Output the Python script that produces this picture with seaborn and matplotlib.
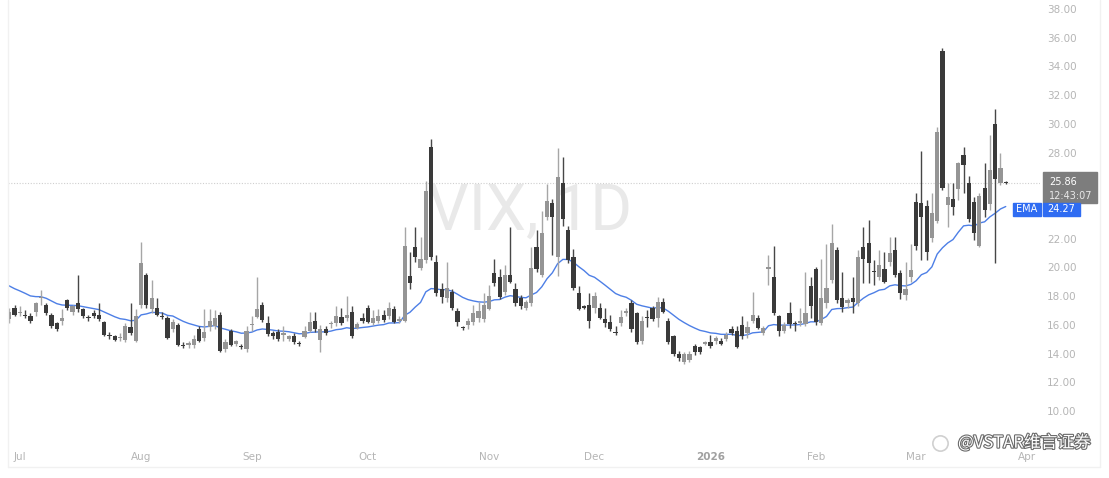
import matplotlib
matplotlib.use('Agg')
import matplotlib.pyplot as plt
import matplotlib.patheffects as pe
import matplotlib.transforms as mtransforms
from matplotlib.lines import Line2D
from matplotlib.patches import Rectangle
import pandas as pd
import seaborn as sns

# VIX daily candles, end of Jun 2025 -> Mar 2026
opens = [16.4, 17.2, 16.85, 16.7, 16.6, 16.9, 17.85, 17.4, 16.7, 16.1, 16.3, 17.7, 16.9, 17.5, 17.1, 16.5, 16.8, 16.7, 16.2, 15.25,
         15.2, 15.05, 14.95, 15.85, 14.9, 17.4, 19.5, 17.1, 17.2, 16.6, 16.5, 15.7, 16.0, 14.6, 14.6, 14.6, 15.7, 15.1, 15.85, 15.9,
         16.7, 14.3, 15.6, 14.7, 14.5, 14.3, 16.0, 16.55, 17.4, 16.1, 15.4, 15.5, 15.3, 15.0, 15.2, 14.7, 15.15, 15.6, 16.3, 14.95,
         15.7, 16.05, 16.1, 16.55, 16.5, 16.9, 15.8, 16.5, 17.2, 16.1, 16.3, 16.7, 16.6, 17.1, 16.3, 16.3, 19.4, 21.4, 19.95, 20.5,
         28.4, 20.4, 18.5, 17.9, 18.3, 16.95, 15.85, 16.0, 16.2, 16.5, 16.4, 17.1, 19.6, 19.3, 18.3, 19.5, 18.5, 17.85, 17.2, 17.5,
         21.4, 19.5, 23.5, 24.5, 20.7, 25.9, 22.6, 20.7, 18.2, 17.25, 17.4, 17.2, 17.2, 16.4, 16.2, 15.5, 16.1, 16.85, 17.5, 16.8,
         14.9, 16.5, 17.2, 16.5, 17.6, 16.3, 15.2, 14.0, 13.4, 13.55, 14.5, 14.45, 14.7, 14.8, 14.85, 14.9, 15.0, 15.7, 15.6, 16.0,
         15.45, 16.3, 16.5, 15.4, 19.9, 19.3, 16.6, 15.6, 16.8, 16.1, 16.1, 16.05, 18.7, 19.9, 16.1, 17.5, 19.1, 21.2, 17.9, 17.5,
         17.85, 17.5, 21.4, 21.7, 19.75, 19.35, 19.9, 20.4, 21.2, 19.6, 18.05, 19.35, 24.55, 24.5, 24.3, 22.05, 23.2, 35.1, 24.35, 24.8,
         25.45, 27.8, 25.9, 24.55, 21.5, 25.5, 24.4, 30.0, 25.9, 25.9]
highs = [17.2, 17.4, 17.3, 17.0, 16.8, 17.6, 18.4, 17.5, 16.8, 16.2, 17.1, 17.8, 17.4, 19.5, 17.2, 16.7, 17.0, 17.5, 16.3, 15.5,
         15.3, 15.4, 16.1, 17.5, 17.1, 21.8, 19.6, 19.1, 17.9, 16.9, 16.6, 16.4, 16.1, 14.8, 14.9, 15.3, 15.9, 17.1, 17.1, 17.0,
         16.9, 15.0, 15.7, 14.95, 14.7, 15.9, 16.6, 19.3, 17.6, 16.6, 15.6, 15.7, 15.9, 15.3, 15.4, 14.9, 15.9, 16.9, 16.9, 16.0,
         15.9, 16.3, 17.3, 17.2, 18.0, 17.3, 16.2, 16.8, 17.4, 17.0, 17.1, 17.0, 17.6, 17.3, 16.6, 22.8, 21.1, 22.8, 22.1, 26.0,
         28.95, 20.9, 18.9, 20.4, 18.5, 17.2, 15.95, 16.5, 17.4, 17.6, 18.2, 18.8, 20.6, 19.9, 20.2, 22.8, 18.9, 18.1, 17.7, 21.4,
         22.6, 23.9, 25.8, 24.8, 28.3, 27.7, 22.9, 21.3, 18.7, 17.35, 18.2, 18.3, 17.5, 17.2, 16.7, 15.9, 17.0, 17.2, 17.7, 16.9,
         16.6, 17.0, 17.3, 17.95, 17.9, 16.5, 15.3, 14.2, 14.1, 14.2, 14.7, 14.5, 14.9, 15.3, 15.2, 15.1, 15.5, 15.9, 15.9, 16.6,
         16.3, 18.3, 16.7, 15.9, 20.9, 21.5, 16.7, 16.2, 17.6, 16.3, 17.2, 19.7, 19.3, 20.0, 20.6, 21.6, 23.0, 21.4, 19.7, 17.9,
         19.3, 21.2, 22.8, 23.3, 20.5, 21.2, 21.1, 22.1, 22.1, 19.8, 20.4, 21.6, 25.2, 28.1, 24.7, 25.2, 29.8, 35.3, 25.9, 25.9,
         27.35, 28.4, 26.4, 24.9, 25.2, 27.3, 29.2, 31.0, 28.0, 26.0]
lows = [16.1, 16.6, 16.6, 16.5, 16.1, 16.6, 17.4, 16.7, 15.8, 15.6, 16.0, 17.0, 16.7, 16.9, 16.5, 16.3, 16.5, 16.3, 15.2, 15.0,
        14.9, 14.9, 14.8, 15.3, 14.8, 17.2, 17.2, 16.8, 16.6, 16.4, 15.0, 15.5, 14.5, 14.4, 14.4, 14.4, 14.8, 14.9, 15.6, 15.7,
        14.1, 14.1, 14.5, 14.5, 14.3, 14.1, 15.6, 16.5, 16.2, 15.2, 15.0, 14.9, 14.9, 14.9, 14.7, 14.5, 15.05, 15.5, 15.5, 14.1,
        15.3, 15.8, 15.9, 16.0, 16.3, 15.1, 15.7, 16.1, 16.1, 16.0, 16.1, 16.2, 16.4, 16.1, 16.1, 16.2, 18.5, 20.4, 19.8, 20.3,
        20.5, 18.0, 17.5, 17.6, 17.0, 15.9, 15.65, 15.7, 16.0, 16.2, 16.2, 17.0, 18.7, 17.8, 18.1, 18.9, 17.3, 17.1, 17.0, 17.3,
        19.7, 19.3, 23.3, 20.9, 19.4, 22.9, 20.3, 18.4, 17.0, 17.1, 15.8, 16.8, 16.4, 15.85, 15.6, 15.3, 15.9, 16.6, 15.5, 14.7,
        14.7, 15.85, 16.3, 15.85, 16.8, 14.7, 13.8, 13.5, 13.3, 13.4, 13.9, 14.0, 14.6, 14.4, 14.7, 14.6, 14.9, 15.3, 14.4, 15.0,
        15.1, 16.1, 15.7, 15.3, 18.8, 16.7, 15.2, 15.4, 15.8, 15.6, 15.9, 15.95, 16.5, 16.0, 16.0, 17.2, 18.9, 17.5, 16.9, 17.2,
        16.8, 17.3, 18.9, 18.9, 18.8, 19.1, 18.9, 20.1, 19.3, 17.8, 17.7, 19.0, 21.2, 20.5, 20.5, 21.8, 23.1, 25.4, 22.8, 23.65,
        24.7, 25.2, 23.15, 21.9, 21.45, 23.5, 24.0, 20.3, 25.75, 25.8]
closes = [16.9, 16.7, 16.9, 16.6, 16.3, 17.5, 17.9, 16.8, 15.9, 15.7, 16.5, 17.2, 17.3, 17.1, 16.6, 16.45, 16.6, 16.4, 15.3, 15.2,
          14.95, 15.15, 15.9, 15.4, 16.6, 20.3, 17.4, 17.9, 16.7, 16.55, 15.1, 16.2, 14.6, 14.5, 14.75, 15.0, 14.9, 15.5, 16.3, 16.5,
          14.2, 14.8, 14.6, 14.85, 14.45, 15.6, 16.05, 17.1, 16.35, 15.35, 15.2, 15.0, 15.4, 15.2, 14.8, 14.65, 15.6, 16.2, 15.7, 15.7,
          15.45, 16.1, 16.6, 16.1, 16.7, 15.2, 16.05, 16.25, 16.2, 16.5, 16.6, 16.35, 17.2, 16.2, 16.35, 21.5, 18.9, 20.7, 20.6, 25.3,
          20.7, 18.2, 17.95, 18.6, 17.2, 16.2, 15.8, 16.3, 16.8, 16.95, 17.4, 18.0, 18.9, 17.95, 19.5, 19.0, 17.5, 17.3, 17.6, 19.95,
          19.9, 22.4, 24.6, 23.5, 26.3, 23.4, 20.5, 18.6, 17.1, 17.2, 16.3, 18.0, 16.5, 16.1, 15.7, 15.4, 16.55, 16.95, 15.7, 14.8,
          16.3, 16.45, 16.4, 17.6, 16.9, 14.8, 14.0, 13.7, 14.0, 14.0, 14.1, 14.1, 14.8, 14.5, 15.1, 14.7, 15.3, 15.45, 14.45, 15.2,
          15.85, 16.7, 15.8, 15.8, 20.0, 16.8, 15.6, 16.0, 16.05, 16.05, 16.3, 16.8, 17.3, 16.2, 17.9, 18.6, 21.7, 17.7, 17.25, 17.75,
          17.6, 20.7, 20.6, 20.3, 19.65, 20.15, 19.0, 21.0, 19.5, 18.2, 18.5, 19.8, 21.5, 23.5, 21.1, 23.8, 29.4, 25.5, 24.9, 24.2,
          27.3, 27.1, 23.4, 22.4, 25.0, 24.0, 26.8, 26.15, 26.9, 25.86]

ema_seed = 18.9          # EMA value just before the first visible candle
ema_span = 20
ema_label = 24.27
clock_label = '12:43:07'

month_labels = ['Jul', 'Aug', 'Sep', 'Oct', 'Nov', 'Dec', '2026', 'Feb', 'Mar', 'Apr']
month_bar_idx = [2, 25, 46, 68, 91, 111, 133, 153, 172, 193]
price_ticks = [10, 12, 14, 16, 18, 20, 22, 24, 26, 28, 30, 32, 34, 36, 38]

W, H = 1109, 478

df = pd.DataFrame({'open': opens, 'high': highs, 'low': lows, 'close': closes})
df['i'] = range(len(df))
up = df['close'] >= df['open']

ema = pd.Series([ema_seed] + closes).ewm(span=ema_span, adjust=False).mean()
ema_df = pd.DataFrame({'i': range(-1, len(closes)), 'ema': ema.values})

sns.set_style('white')
plt.rcParams['font.family'] = ['DejaVu Sans', 'Noto Sans CJK SC']

fig = plt.figure(figsize=(W / 100, H / 100), dpi=100)
fig.patch.set_facecolor('white')
ax = fig.add_axes([8 / W, 38 / H, 1032 / W, 440 / H])
ax.set_facecolor('white')

up_body, up_wick = '#959595', '#a6a6a6'
dn_body, dn_wick = '#3a3a3a', '#474747'

# watermark
ax.text(98.8, 22.6, 'VIX, 1D', ha='center', va='baseline', fontsize=46,
        family='Roboto', color='#e9e9e9', zorder=0)

# last price dotted line
ax.axhline(closes[-1], color='#cfcfcf', lw=0.8, ls=(0, (1, 1.5)), zorder=1)

# EMA
sns.lineplot(data=ema_df, x='i', y='ema', color='#4d7fe6', lw=1.0, ax=ax, zorder=2)

# wicks
ax.vlines(df.loc[up, 'i'], df.loc[up, 'low'], df.loc[up, 'high'], color=up_wick, lw=1.0, zorder=3)
ax.vlines(df.loc[~up, 'i'], df.loc[~up, 'low'], df.loc[~up, 'high'], color=dn_wick, lw=1.0, zorder=3)

# bodies
body_h = (df['close'] - df['open']).abs().clip(lower=0.08)
body_b = df[['open', 'close']].min(axis=1)
ax.bar(df.loc[up, 'i'], body_h[up], bottom=body_b[up], width=0.8, color=up_body, lw=0, zorder=4)
ax.bar(df.loc[~up, 'i'], body_h[~up], bottom=body_b[~up], width=0.8, color=dn_body, lw=0, zorder=4)

ax.set_xlim(-0.25, 195.5)
ax.set_ylim(38 - 431 / 14.357, 38 + 9 / 14.357)
ax.set_xlabel('')
ax.set_ylabel('')
for s in ax.spines.values():
    s.set_visible(False)

ax.yaxis.tick_right()
ax.set_yticks(price_ticks)
ax.set_yticklabels([f'{v:.2f}' for v in price_ticks])
ax.tick_params(axis='y', length=0, pad=5, labelsize=7.5, labelcolor='#b5b5b5')

ax.set_xticks(month_bar_idx)
ax.set_xticklabels(month_labels)
ax.tick_params(axis='x', length=0, pad=9, labelsize=7.5, labelcolor='#b5b5b5')
for lab in ax.get_xticklabels():
    if lab.get_text() == '2026':
        lab.set_fontweight('bold')
        lab.set_color('#a0a0a0')

# price tags on the right axis
tr = mtransforms.blended_transform_factory(ax.transAxes, ax.transData)
px = 1 / 1032
ax.add_patch(Rectangle((1.003, 24.5), 54 * px, 2.15, transform=tr, color='#7d7d7d',
                       clip_on=False, zorder=6))
ax.text(1.003 + 6 * px, closes[-1] + 0.1, f'{closes[-1]:.2f}', transform=tr, ha='left', va='center',
        fontsize=7, color='white', clip_on=False, zorder=7)
ax.text(1.003 + 6 * px, 24.97, clock_label, transform=tr, ha='left', va='center',
        fontsize=7, color='#e8e8e8', clip_on=False, zorder=7)

ax.add_patch(Rectangle(((1013 - 8) * px, 23.6), 28 * px, 0.9, transform=tr, color='#2f6cf2',
                       clip_on=False, zorder=6))
ax.text((1013 - 8 + 14) * px, 24.05, 'EMA', transform=tr, ha='center', va='center',
        fontsize=7, color='white', clip_on=False, zorder=7)
ax.add_patch(Rectangle(((1043 - 8) * px, 23.6), 37 * px, 0.9, transform=tr, color='#2f6cf2',
                       clip_on=False, zorder=6))
ax.text((1043 - 8 + 18.5) * px, 24.05, f'{ema_label:.2f}', transform=tr, ha='center', va='center',
        fontsize=7, color='white', clip_on=False, zorder=7)

# panel borders
fig.add_artist(Line2D([8 / W, 8 / W], [1 - 467 / H, 1], color='#f1f1f1', lw=1))
fig.add_artist(Line2D([8 / W, 1100 / W], [1 - 467 / H, 1 - 467 / H], color='#f1f1f1', lw=1))
fig.add_artist(Line2D([1100 / W, 1100 / W], [1 - 467 / H, 1], color='#f1f1f1', lw=1))

# site watermark
fig.add_artist(Line2D([940 / W], [1 - 443 / H], marker='o', markersize=11, mfc='none',
                      mec='#d0d0d0', mew=1.2))
fig.text(958 / W, 1 - 443 / H, '@VSTAR维言证券', ha='left', va='center', fontsize=12,
         family=['Noto Sans CJK SC', 'DejaVu Sans'], color='white',
         path_effects=[pe.withStroke(linewidth=1.6, foreground='#6a6a6a')])

fig.savefig('out.png', dpi=100, facecolor='white')
